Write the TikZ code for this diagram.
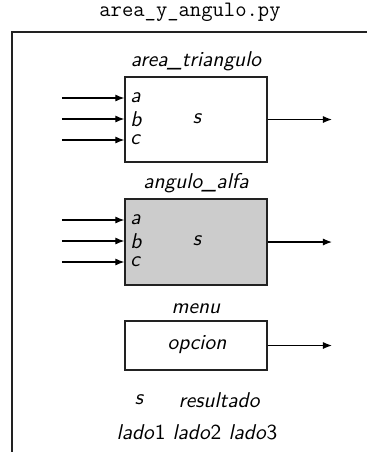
\documentclass[tikz,border=0pt]{standalone}
\usetikzlibrary{arrows.meta}
\definecolor{boxgray}{HTML}{CCCCCC}
\definecolor{linegray}{HTML}{222222}
\newcommand{\vt}[1]{\textsf{\itshape #1}}
\begin{document}
\begin{tikzpicture}[x=0.5pt,y=-0.5pt,
  fn/.style={draw=linegray,line width=0.6pt,minimum width=71pt,inner sep=0pt},
  arr/.style={line width=0.6pt,-{Latex[length=4.5pt,width=3.5pt]}},
  txt/.style={inner sep=0pt,font=\fontsize{10.7}{13}\sffamily\itshape}]
\useasboundingbox (0,0) rectangle (367,452);
\node[inner sep=0pt,font=\fontsize{11}{13}\ttfamily] (title) at (190,12) {area\_y\_angulo.py};
\coordinate (fr1) at (367,32);
\coordinate (fr2) at (12,32);
\coordinate (fr3) at (12,452);
\draw[linegray,line width=0.6pt] (fr1) -- (fr2) -- (fr3);
% box 1
\node[fn,minimum height=42.5pt] (t1) at (196,119.5) {};
\node[txt] (t1n) at (196,61) {area\_triangulo};
\node[txt,anchor=west] (t1a) at (130,98) {a};
\node[txt,anchor=west] (t1b) at (130,119) {b};
\node[txt,anchor=west] (t1c) at (130,140) {c};
\node[txt] (t1s) at (197,119) {s};
\coordinate (i1a) at (62,98);
\coordinate (i1b) at (62,119);
\coordinate (i1c) at (62,140);
\coordinate (o1) at (332,119.5);
\draw[arr] (i1a) -- (i1a -| t1.west);
\draw[arr] (i1b) -- (i1b -| t1.west);
\draw[arr] (i1c) -- (i1c -| t1.west);
\draw[arr] (t1.east) -- (o1);
% box 2
\node[fn,fill=boxgray,minimum height=43pt] (t2) at (196,242) {};
\node[txt] (t2n) at (196,183) {angulo\_alfa};
\node[txt,anchor=west] (t2a) at (130,220) {a};
\node[txt,anchor=west] (t2b) at (130,241) {b};
\node[txt,anchor=west] (t2c) at (130,262) {c};
\node[txt] (t2s) at (197,241) {s};
\coordinate (i2a) at (62,220);
\coordinate (i2b) at (62,241);
\coordinate (i2c) at (62,262);
\coordinate (o2) at (332,242);
\draw[arr] (i2a) -- (i2a -| t2.west);
\draw[arr] (i2b) -- (i2b -| t2.west);
\draw[arr] (i2c) -- (i2c -| t2.west);
\draw[arr] (t2.east) -- (o2);
% box 3
\node[fn,minimum height=24.5pt] (t3) at (196,345.5) {};
\node[txt] (t3n) at (196,309) {menu};
\node[txt] (t3o) at (197,345) {opcion};
\coordinate (o3) at (332,345.5);
\draw[arr] (t3.east) -- (o3);
% variables
\node[txt] (vs) at (139,400) {s};
\node[txt] (vr) at (219,400) {resultado};
\node[inner sep=0pt,font=\fontsize{10.7}{13}\selectfont] (vl) at (197,432) {\vt{lado}\textsf{1} \vt{lado}\textsf{2} \vt{lado}\textsf{3}};
\end{tikzpicture}
\end{document}
